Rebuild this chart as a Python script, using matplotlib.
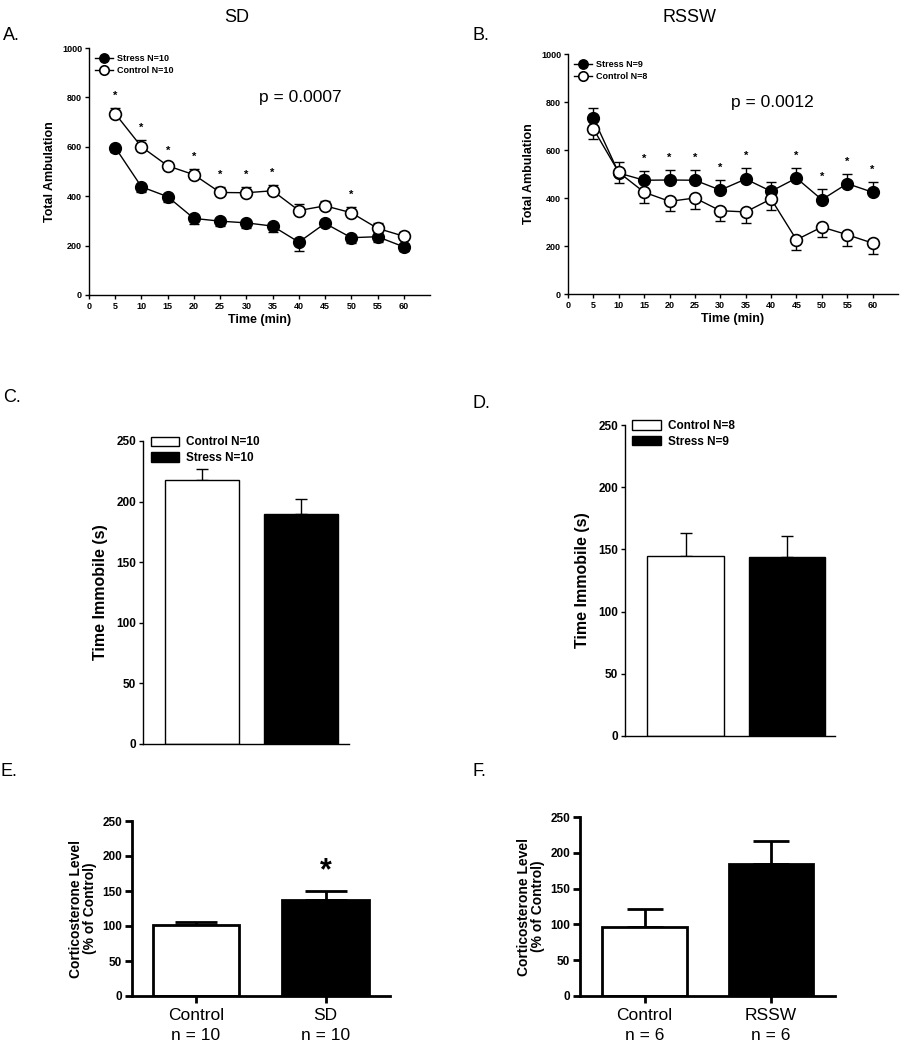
import matplotlib
matplotlib.use("Agg")
import matplotlib.pyplot as plt
import numpy as np

plt.rcParams['font.family'] = ['Liberation Sans', 'DejaVu Sans']

# ---- data ----
time_min = [5, 10, 15, 20, 25, 30, 35, 40, 45, 50, 55, 60]

# panel A (SD)
sd_stress = [597, 438, 398, 310, 299, 292, 279, 214, 290, 232, 236, 195]
sd_stress_err = [20, 20, 20, 22, 20, 20, 22, 35, 8, 20, 22, 18]
sd_control = [734, 600, 523, 487, 415, 414, 422, 342, 361, 333, 270, 238]
sd_control_err = [23, 27, 10, 22, 23, 24, 23, 25, 19, 24, 20, 17]
sd_sig = [5, 10, 15, 20, 25, 30, 35, 50]

# panel B (RSSW)
rssw_stress = [733, 504, 474, 475, 474, 433, 479, 428, 483, 393, 460, 424]
rssw_stress_err = [42, 48, 40, 42, 43, 43, 46, 39, 43, 44, 42, 43]
rssw_control = [688, 507, 424, 386, 400, 347, 342, 396, 226, 279, 247, 212]
rssw_control_err = [42, 44, 44, 42, 44, 44, 46, 44, 42, 43, 46, 44]
rssw_sig = [15, 20, 25, 30, 35, 45, 50, 55, 60]

# panels C, D: time immobile
c_labels = ['Control N=10', 'Stress N=10']
c_vals = [218, 190]
c_err = [9, 12]
d_labels = ['Control N=8', 'Stress N=9']
d_vals = [145, 144]
d_err = [18, 17]

# panels E, F: corticosterone
e_labels = ['Control\nn = 10', 'SD\nn = 10']
e_vals = [101, 137]
e_err = [5, 13]
f_labels = ['Control\nn = 6', 'RSSW\nn = 6']
f_vals = [97, 185]
f_err = [25, 32]

W, H = 900, 1050
fig = plt.figure(figsize=(9, 10.5), dpi=100)


def px_axes(left, right, top, bottom):
    return fig.add_axes([left / W, 1 - bottom / H, (right - left) / W, (bottom - top) / H])


def style(ax, lw=1.0, fs=5.5, ticklen=3):
    for s in ['top', 'right']:
        ax.spines[s].set_visible(False)
    for s in ['left', 'bottom']:
        ax.spines[s].set_linewidth(lw)
    ax.tick_params(direction='out', length=ticklen, width=lw, labelsize=fs, pad=2)
    for lab in ax.get_xticklabels() + ax.get_yticklabels():
        lab.set_fontweight('bold')


def line_panel(ax, stress, s_err, control, c_err, sig, p_text, labels, stress_up):
    t = np.array(time_min)
    s = np.array(stress)
    c = np.array(control)
    z = np.zeros(len(t))
    if stress_up:
        s_yerr = [z, s_err]
        c_yerr = [c_err, z]
        top = s + np.array(s_err)
    else:
        s_yerr = [s_err, z]
        c_yerr = [z, c_err]
        top = c + np.array(c_err)
    ax.errorbar(t, s, yerr=s_yerr, fmt='none', ecolor='black', capsize=3.5,
                elinewidth=1, zorder=2)
    ax.errorbar(t, c, yerr=c_yerr, fmt='none', ecolor='black', capsize=3.5,
                elinewidth=1, zorder=2)
    ax.plot(t, s, '-o', color='black', mfc='black', mec='black', ms=8.5, lw=1,
            label=labels[0], zorder=3)
    ax.plot(t, c, '-o', color='black', mfc='white', mec='black', mew=1.2, ms=8.5, lw=1,
            label=labels[1], zorder=4)
    for x in sig:
        i = time_min.index(x)
        ax.text(x, top[i] + 50, '*', ha='center', va='center', fontsize=8, fontweight='bold')
    ax.set_xlim(0, 65)
    ax.set_ylim(0, 1000)
    ax.set_xticks(range(0, 65, 5))
    ax.set_yticks(range(0, 1001, 200))
    ax.set_xlabel('Time (min)', fontsize=9, fontweight='bold', labelpad=2)
    ax.set_ylabel('Total Ambulation', fontsize=9, fontweight='bold', labelpad=4)
    ax.text(0.62, 0.8, p_text, transform=ax.transAxes, ha='center', va='center',
            fontsize=12.5)
    ax.legend(loc='upper left', frameon=False, prop={'size': 6.5, 'weight': 'bold'},
              handlelength=2.0, handletextpad=0.4, labelspacing=0.3,
              borderaxespad=0.3, markerscale=0.8)
    style(ax, fs=6.5)


axA = px_axes(89, 430, 48, 295)
line_panel(axA, sd_stress, sd_stress_err, sd_control, sd_control_err, sd_sig,
           'p = 0.0007', ['Stress N=10', 'Control N=10'], stress_up=False)

axB = px_axes(568, 898, 54, 294)
line_panel(axB, rssw_stress, rssw_stress_err, rssw_control, rssw_control_err, rssw_sig,
           'p = 0.0012', ['Stress N=9', 'Control N=8'], stress_up=True)


def immobile_panel(ax, labels, vals, err, xlim):
    colors = ['white', 'black']
    for i in range(2):
        ax.bar(i + 1, vals[i], 0.75, color=colors[i], edgecolor='black', lw=1,
               label=labels[i], zorder=2)
        ax.errorbar(i + 1, vals[i], yerr=[[0], [err[i]]], color='black', lw=1,
                    capsize=4.5, capthick=1, zorder=1)
    ax.set_xlim(*xlim)
    ax.set_ylim(0, 250)
    ax.set_yticks(range(0, 251, 50))
    ax.set_xticks([])
    ax.set_ylabel('Time Immobile (s)', fontsize=11.5, fontweight='bold', labelpad=6)
    ax.legend(loc='upper left', bbox_to_anchor=(-0.015, 1.05), frameon=False,
              prop={'size': 8.5, 'weight': 'bold'}, handlelength=2.4, handleheight=0.9,
              handletextpad=0.6, labelspacing=0.3)
    style(ax, lw=1.0, fs=8.5, ticklen=3)


axC = px_axes(143, 349, 441, 744)
immobile_panel(axC, c_labels, c_vals, c_err, (0.404, 2.485))

axD = px_axes(625, 835, 425, 736)
immobile_panel(axD, d_labels, d_vals, d_err, (0.404, 2.47))


def cort_panel(ax, labels, vals, err, xlim, capsize, star=False):
    colors = ['white', 'black']
    ax.bar([1, 2], vals, 0.67, color=colors, edgecolor='black', lw=2, zorder=2)
    ax.errorbar([1, 2], vals, yerr=[[0, 0], err], fmt='none', ecolor='black',
                elinewidth=2, capsize=capsize, capthick=2, zorder=1)
    if star:
        ax.text(2, vals[1] + err[1] + 28, '*', ha='center', va='center',
                fontsize=22, fontweight='bold')
    ax.set_xlim(*xlim)
    ax.set_ylim(0, 250)
    ax.set_yticks(range(0, 251, 50))
    ax.set_xticks([1, 2])
    ax.set_xticklabels(labels, linespacing=1.35)
    ax.set_ylabel('Corticosterone Level\n(% of Control)', fontsize=10, fontweight='bold',
                  labelpad=4, linespacing=1.0)
    style(ax, lw=2, fs=8.5, ticklen=5)
    ax.tick_params(axis='x', labelsize=12.5, pad=4)
    for lab in ax.get_xticklabels():
        lab.set_fontweight('normal')


axE = px_axes(132, 390, 821, 996)
cort_panel(axE, e_labels, e_vals, e_err, (0.506, 2.498), 15, star=True)

axF = px_axes(580, 835, 817, 996)
cort_panel(axF, f_labels, f_vals, f_err, (0.49, 2.506), 13)

# titles and panel letters
fig.text(237 / W, 1 - 18 / H, 'SD', ha='center', va='center', fontsize=13)
fig.text(690 / W, 1 - 18 / H, 'RSSW', ha='center', va='center', fontsize=13)
for letter, x, y in [('A.', 3, 36), ('B.', 473, 36), ('C.', 3, 398),
                     ('D.', 473, 403), ('E.', 0, 772), ('F.', 473, 771)]:
    fig.text(x / W, 1 - y / H, letter, ha='left', va='center', fontsize=13)

fig.savefig('out.png', dpi=100)
